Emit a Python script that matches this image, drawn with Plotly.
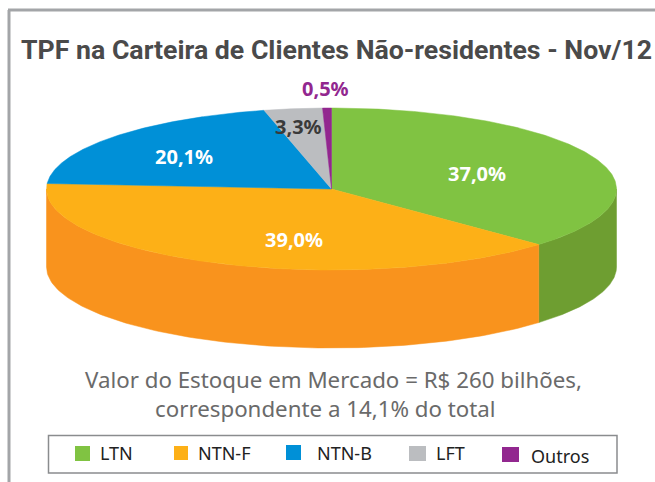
import numpy as np
import plotly.graph_objects as go

categories = ["LTN", "NTN-F", "NTN-B", "LFT", "Outros"]
shares = [37.0, 39.0, 20.1, 3.3, 0.5]
share_labels = ["37,0%", "39,0%", "20,1%", "3,3%", "0,5%"]
top_colors = ["#80C342", "#FDB017", "#0090D7", "#BBBDC0", "#92278F"]
side_colors = ["#6E9E31", "#F9931D", "#0078B4", "#9A9C9F", "#70206E"]
label_colors = ["white", "white", "white", "#3A3A3A", "#92278F"]
label_pos = [(477, 173), (294, 239), (184, 156), (298, 126), (325, 88)]
legend_swatch = [(75, 446, 90, 461), (174, 446, 188, 460), (286, 445, 301, 460),
                 (409, 446, 426, 461), (502, 447, 519, 462)]
legend_text_x = [98, 196, 315, 434, 529]
legend_text_y = [453, 453, 453, 453, 456]
title = "TPF na Carteira de Clientes Não-residentes - Nov/12"
subtitle_lines = ["Valor do Estoque em Mercado = R$ 260 bilhões,", "correspondente a 14,1% do total"]

CX, CY, RX, RY, DEPTH = 331.5, 189.0, 285.0, 81.0, 78.0
FONT = "Noto Sans"


def ell(t, dy=0.0):
    return CX + RX * np.sin(t), CY + RY * np.cos(t) * -1 + dy


fractions = np.cumsum([0.0] + shares) / sum(shares)
angles = fractions * 2 * np.pi
fig = go.Figure()

# side walls: only the arc in the front half of the ellipse is visible
for i in range(len(shares)):
    a0 = max(angles[i], np.pi / 2)
    a1 = min(angles[i + 1], 3 * np.pi / 2)
    if a1 <= a0:
        continue
    t = np.linspace(a0, a1, 120)
    x1, y1 = ell(t)
    x2, y2 = ell(t[::-1], DEPTH)
    fig.add_trace(go.Scatter(x=np.r_[x1, x2, x1[0]], y=np.r_[y1, y2, y1[0]], mode="lines",
                             fill="toself", fillcolor=side_colors[i],
                             line=dict(color=side_colors[i], width=0.5),
                             hoverinfo="skip", showlegend=False))

# top faces
for i in range(len(shares)):
    t = np.linspace(angles[i], angles[i + 1], 240)
    x, y = ell(t)
    fig.add_trace(go.Scatter(x=np.r_[CX, x, CX], y=np.r_[CY, y, CY], mode="lines",
                             fill="toself", fillcolor=top_colors[i],
                             line=dict(color=top_colors[i], width=0.5),
                             name=categories[i], text=share_labels[i], hoverinfo="name+text",
                             showlegend=False))

annotations = [dict(x=p[0], y=p[1], text=f"<b>{s}</b>", showarrow=False,
                    font=dict(family=FONT, size=20, color=c))
               for p, s, c in zip(label_pos, share_labels, label_colors)]
annotations.append(dict(x=336, y=50, text=f"<b>{title}</b>", showarrow=False,
                        font=dict(family="Roboto", size=26.7, color="#4A4A4A")))
annotations.append(dict(x=333.5, y=379, text=subtitle_lines[0], showarrow=False,
                        font=dict(family=FONT, size=22.3, color="#6A6A6A")))
annotations.append(dict(x=325.5, y=408, text=subtitle_lines[1], showarrow=False,
                        font=dict(family=FONT, size=22.3, color="#6A6A6A")))
for name, tx, ty in zip(categories, legend_text_x, legend_text_y):
    annotations.append(dict(x=tx, y=ty, text=name, showarrow=False, xanchor="left",
                            font=dict(family=FONT, size=18, color="#222222")))

shapes = [
    dict(type="line", x0=9, x1=9, y0=10, y1=482, line=dict(color="#A3A5A8", width=3)),
    dict(type="line", x0=8, x1=655, y0=10, y1=10, line=dict(color="#A3A5A8", width=3)),
    dict(type="rect", x0=48.5, x1=617, y0=435.5, y1=473, line=dict(color="#8A8C8E", width=1.5)),
]
for sw, col in zip(legend_swatch, top_colors):
    shapes.append(dict(type="rect", x0=sw[0], y0=sw[1], x1=sw[2], y1=sw[3],
                       fillcolor=col, line=dict(width=0)))

fig.update_layout(
    width=655, height=482, margin=dict(l=0, r=0, t=0, b=0, pad=0),
    paper_bgcolor="white", plot_bgcolor="white", showlegend=False,
    xaxis=dict(range=[0, 655], visible=False, fixedrange=True),
    yaxis=dict(range=[482, 0], visible=False, fixedrange=True),
    annotations=annotations, shapes=shapes,
)
fig.write_html("out.html", config={"displayModeBar": False},
               post_script="document.body.style.margin='0';document.body.style.overflow='hidden';")
